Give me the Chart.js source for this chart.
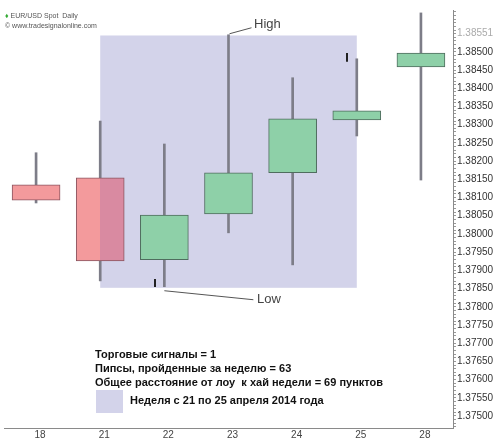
<!DOCTYPE html>
<html>
<head>
<meta charset="utf-8">
<script src="https://cdn.jsdelivr.net/npm/chart.js@4"></script>
<style>
  html, body { margin: 0; padding: 0; background: #fff; }
  #wrap { position: relative; width: 500px; height: 447px; overflow: hidden; font-family: "Liberation Sans", Arial, sans-serif; }
  canvas { position: absolute; left: 0; top: 0; }
  .t { position: absolute; white-space: nowrap; }
  .info { font-weight: bold; font-size: 11px; color: #111; }
  .ann { font-size: 13px; color: #444; font-family: "Liberation Sans Narrow", "Liberation Sans", Arial, sans-serif; }
  .wm { font-size: 7px; color: #555; }
</style>
</head>
<body>
<div id="wrap">
  <canvas id="c" width="500" height="447"></canvas>
  <div class="t wm" style="left:5px;top:12px;"><span style="color:#3a3">&#9830;</span> EUR/USD Spot&nbsp; Daily</div>
  <div class="t wm" style="left:5px;top:22px;">&#169; www.tradesignalonline.com</div>
  <div class="t ann" style="left:254px;top:16px;">High</div>
  <div class="t ann" style="left:257px;top:291px;">Low</div>
  <div class="t info" style="left:95px;top:348px;">Торговые сигналы = 1</div>
  <div class="t info" style="left:95px;top:362px;">Пипсы, пройденные за неделю = 63</div>
  <div class="t info" style="left:95px;top:376px;">Общее расстояние от лоу&nbsp; к хай недели = 69 пунктов</div>
  <div class="t" style="left:96px;top:390px;width:27px;height:23px;background:#d3d3ea;"></div>
  <div class="t info" style="left:130px;top:394px;">Неделя с 21 по 25 апреля 2014 года</div>
</div>
<script>
// ---- data ----
const categories = ['18', '21', '22', '23', '24', '25', '28'];
const opens  = [1.38135, 1.38154, 1.37929, 1.38055, 1.38168, 1.38313, 1.38459];
const closes = [1.38093, 1.37926, 1.38052, 1.38168, 1.38316, 1.38338, 1.38497];
const highs  = [1.38223, 1.38310, 1.38247, 1.38547, 1.38429, 1.38481, 1.38607];
const lows   = [1.38085, 1.37871, 1.37855, 1.38003, 1.37915, 1.38269, 1.38148];
const majorTicks = [1.37500, 1.37550, 1.37600, 1.37650, 1.37700, 1.37750, 1.37800, 1.37850, 1.37900, 1.37950,
                    1.38000, 1.38050, 1.38100, 1.38150, 1.38200, 1.38250, 1.38300, 1.38350, 1.38400, 1.38450, 1.38500];
const weekHighLabel = 1.38551;
const weekRange = { fromIndex: 1, toIndex: 5, high: 1.38545, low: 1.37852 };
const markerIdx = [1.86, 4.84];
const markerLo  = [1.37854, 1.38473];
const markerHi  = [1.37876, 1.38497];

const yMin = 1.37467, yMax = 1.38615;

const UP = '#8ed0a8', UP_B = '#4f6d5e';
const DN = '#f39a9c', DN_B = '#8a5560';
const DN_SHADED = '#d98aa1';
const SHADE = '#d3d3ea';

const bodyData = opens.map((o, i) => [o, closes[i]]);
const wickData = lows.map((l, i) => [l, highs[i]]);

function bodyColor(ctx) {
  const i = ctx.dataIndex;
  if (i === undefined) return UP;
  const up = closes[i] >= opens[i];
  if (up) return UP;
  const chart = ctx.chart;
  const xs = chart.scales.x;
  if (!xs) return DN;
  const cx = xs.getPixelForValue(i);
  const sx = xs.getPixelForValue(weekRange.fromIndex);
  const left = cx - 24, right = cx + 24;
  if (sx > left && sx < right) {
    const g = chart.ctx.createLinearGradient(left, 0, right, 0);
    const f = (sx - left) / (right - left);
    g.addColorStop(0, DN); g.addColorStop(f, DN);
    g.addColorStop(f, DN_SHADED); g.addColorStop(1, DN_SHADED);
    return g;
  }
  return DN;
}

const ticksAll = [];
for (let k = 0; k <= 114; k++) ticksAll.push(+(1.3747 + k * 0.0001).toFixed(5));

const overlay = {
  id: 'overlay',
  beforeDatasetsDraw(chart) {
    const { ctx, scales: { x, y } } = chart;
    const x1 = x.getPixelForValue(weekRange.fromIndex), x2 = x.getPixelForValue(weekRange.toIndex);
    const y1 = y.getPixelForValue(weekRange.high), y2 = y.getPixelForValue(weekRange.low);
    ctx.save();
    ctx.fillStyle = SHADE;
    ctx.fillRect(x1, y1, x2 - x1, y2 - y1);
    ctx.restore();
  },
  afterDatasetsDraw(chart) {
    const { ctx, scales: { x, y } } = chart;
    ctx.save();
    // small marks
    ctx.strokeStyle = '#222';
    ctx.lineWidth = 2;
    markerIdx.forEach((m, k) => {
      const px = Math.round(x.getPixelForValue(m));
      ctx.beginPath();
      ctx.moveTo(px, y.getPixelForValue(markerHi[k]));
      ctx.lineTo(px, y.getPixelForValue(markerLo[k]));
      ctx.stroke();
    });
    // leader lines
    ctx.strokeStyle = '#555';
    ctx.lineWidth = 1;
    const hx = x.getPixelForValue(3), hy = y.getPixelForValue(highs[3]);
    ctx.beginPath(); ctx.moveTo(hx + 1, hy - 1); ctx.lineTo(hx + 23, hy - 7); ctx.stroke();
    const lx = x.getPixelForValue(2), ly = y.getPixelForValue(lows[2]);
    ctx.beginPath(); ctx.moveTo(lx, ly + 4); ctx.lineTo(lx + 89, ly + 13); ctx.stroke();
    ctx.restore();
  }
};

new Chart(document.getElementById('c'), {
  type: 'bar',
  data: {
    labels: categories,
    datasets: [
      {
        label: 'body',
        data: bodyData,
        grouped: false,
        order: 1,
        barThickness: 48,
        backgroundColor: bodyColor,
        borderColor: ctx => (closes[ctx.dataIndex] >= opens[ctx.dataIndex] ? UP_B : DN_B),
        borderWidth: 1,
        borderSkipped: false
      },
      {
        label: 'wick',
        data: wickData,
        grouped: false,
        order: 2,
        barThickness: 2,
        backgroundColor: '#7d7d88',
        borderWidth: 0
      }
    ]
  },
  plugins: [overlay],
  options: {
    responsive: false,
    animation: false,
    devicePixelRatio: 1,
    layout: { padding: { left: 4, top: 10, right: 0, bottom: 0 } },
    plugins: { legend: { display: false }, tooltip: { enabled: false } },
    scales: {
      x: {
        type: 'category',
        offset: true,
        grid: { display: false, drawTicks: false },
        border: { display: true, color: '#8a8a8a', width: 1 },
        ticks: { color: '#444', font: { family: 'Liberation Sans', size: 10 }, padding: 1, labelOffset: 4, autoSkip: false, maxRotation: 0 },
        afterFit(s) { s.height = 19; }
      },
      y: {
        type: 'linear',
        position: 'right',
        min: yMin,
        max: yMax,
        afterBuildTicks(s) {
          const t = ticksAll.filter(v => v >= yMin && v <= yMax).map(v => ({ value: v }));
          t.push({ value: weekHighLabel });
          s.ticks = t;
        },
        grid: {
          drawOnChartArea: false,
          drawTicks: true,
          tickLength: 3,
          tickColor: '#999',
          tickWidth: 1
        },
        border: { display: true, color: '#8a8a8a', width: 1 },
        ticks: {
          autoSkip: false,
          padding: 1,
          color: ctx => (Math.abs(ctx.tick.value - weekHighLabel) < 1e-7 ? '#aaa' : '#333'),
          font: { family: 'Liberation Sans', size: 10 },
          callback(v) {
            if (Math.abs(v - weekHighLabel) < 1e-7) return weekHighLabel.toFixed(5);
            return majorTicks.some(m => Math.abs(m - v) < 1e-7) ? v.toFixed(5) : '';
          }
        },
        afterFit(s) { s.width = 47; }
      }
    }
  }
});
</script>
</body>
</html>
